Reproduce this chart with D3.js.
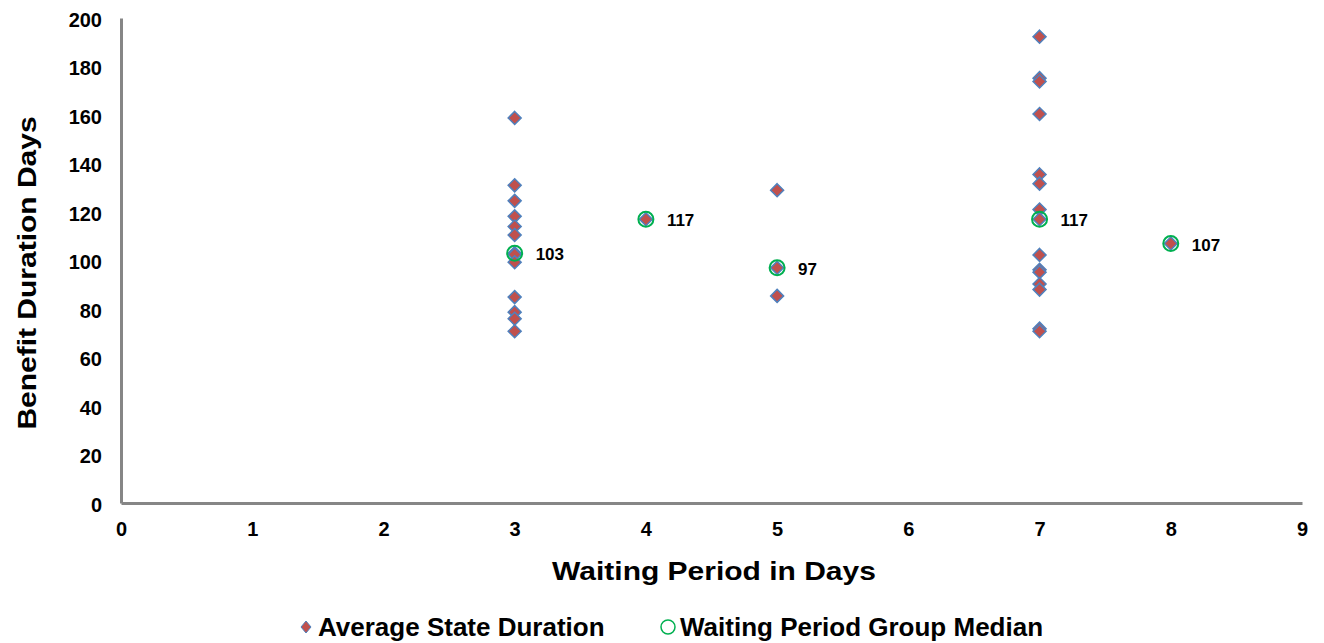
<!DOCTYPE html>
<html>
<head>
<meta charset="utf-8">
<script src="https://cdn.jsdelivr.net/npm/d3@7"></script>
<style>
  body { margin: 0; background: #fff; }
  text { font-family: "Liberation Sans", Arial, sans-serif; font-weight: bold; }
</style>
</head>
<body>
<svg id="chart"></svg>
<script>
// state averages, one entry per state
var stateWait = [3,3,3,3,3,3,3,3,3,3,3,3,3,
                 4,
                 5,5,5,
                 7,7,7,7,7,7,7,7,7,7,7,7,7,7,7,
                 8];
var stateDuration = [158.8,131,124.6,118.2,114,110.5,103,102.5,99.3,84.9,78.7,76,70.8,
                     117,
                     129,97,85.4,
                     192.3,175.2,173.8,160.4,135.5,131.7,121,117,102.3,96.2,95.2,90.3,88,71.9,70.8,
                     107];
// group medians
var medianWait = [3, 4, 5, 7, 8];
var medianDuration = [103, 117, 97, 117, 107];

var xTicks = [0,1,2,3,4,5,6,7,8,9];
var yTicks = [0,20,40,60,80,100,120,140,160,180,200];

var svg = d3.select("#chart")
  .attr("width", 1324)
  .attr("height", 643);

var x = d3.scaleLinear().domain([0, 9]).range([121, 1302]);
var y = d3.scaleLinear().domain([0, 200]).range([503, 18]);

var xAxis = svg.append("g")
  .attr("transform", "translate(0,503)")
  .call(d3.axisBottom(x).tickValues(xTicks).tickSize(0).tickPadding(19));
var yAxis = svg.append("g")
  .attr("transform", "translate(121,0)")
  .call(d3.axisLeft(y).tickValues(yTicks).tickSize(0).tickPadding(19));

[xAxis, yAxis].forEach(function(a) {
  a.select(".domain").attr("stroke", "#868686").attr("stroke-width", 3);
  a.selectAll("text").attr("font-size", 20).attr("fill", "#000")
    .attr("font-family", "Liberation Sans, Arial, sans-serif").attr("font-weight", "bold");
});
yAxis.selectAll("text").attr("dy", "0.4em");

// axis titles (a bit squeezed vertically like the original)
svg.append("text")
  .attr("transform", "translate(714,580) scale(1,0.85)")
  .attr("text-anchor", "middle")
  .attr("font-size", 30)
  .text("Waiting Period in Days");
svg.append("text")
  .attr("transform", "translate(36,273) rotate(-90) scale(1,0.85)")
  .attr("text-anchor", "middle")
  .attr("font-size", 30)
  .text("Benefit Duration Days");

var diamond = "M0,-6.5L6.5,0L0,6.5L-6.5,0Z";

svg.append("g").selectAll("path")
  .data(stateWait)
  .join("path")
  .attr("d", diamond)
  .attr("transform", function(d, i) { return "translate(" + x(d) + "," + y(stateDuration[i]) + ")"; })
  .attr("fill", "#C0504D")
  .attr("stroke", "#4F81BD")
  .attr("stroke-width", 1.5);

svg.append("g").selectAll("circle")
  .data(medianWait)
  .join("circle")
  .attr("cx", function(d) { return x(d); })
  .attr("cy", function(d, i) { return y(medianDuration[i]); })
  .attr("r", 7.5)
  .attr("fill", "none")
  .attr("stroke", "#00B050")
  .attr("stroke-width", 2);

svg.append("g").selectAll("text")
  .data(medianWait)
  .join("text")
  .attr("x", function(d) { return x(d) + 21; })
  .attr("y", function(d, i) { return y(medianDuration[i]) + 7; })
  .attr("font-size", 17)
  .attr("fill", "#000")
  .text(function(d, i) { return medianDuration[i]; });

// legend
var lg = svg.append("g").attr("transform", "translate(0,636)");
lg.append("path").attr("d", "M0,-6L5,0L0,6L-5,0Z")
  .attr("transform", "translate(306,-9)")
  .attr("fill", "#C0504D").attr("stroke", "#4F81BD").attr("stroke-width", 1);
lg.append("text").attr("x", 318).attr("y", 0).attr("font-size", 26)
  .text("Average State Duration");
lg.append("circle").attr("cx", 668).attr("cy", -9).attr("r", 7)
  .attr("fill", "none").attr("stroke", "#00B050").attr("stroke-width", 1.5);
lg.append("text").attr("x", 680).attr("y", 0).attr("font-size", 26)
  .text("Waiting Period Group Median");
</script>
</body>
</html>
